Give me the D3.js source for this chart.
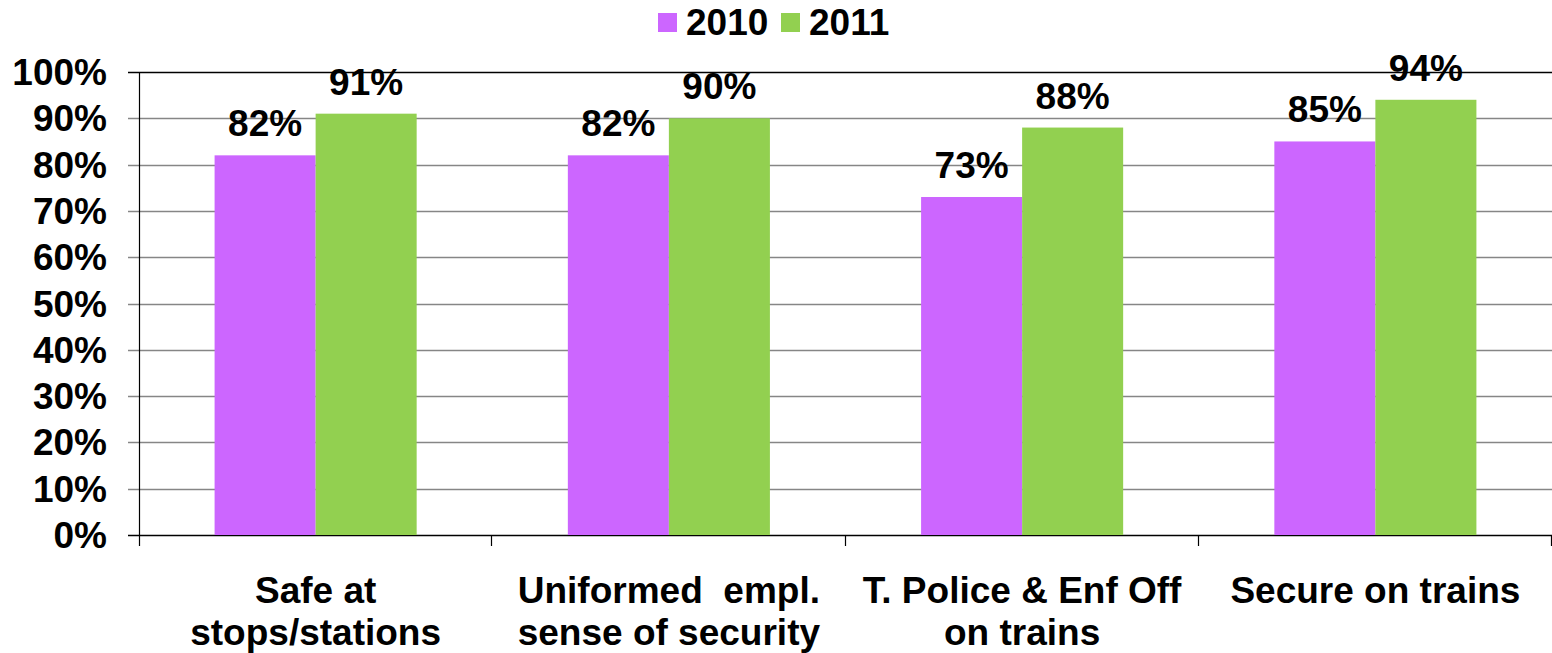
<!DOCTYPE html>
<html>
<head>
<meta charset="utf-8">
<script src="https://cdn.jsdelivr.net/npm/d3@7"></script>
<style>
body { margin: 0; background: #fff; }
svg text { font-family: Arial, "Liberation Sans", sans-serif; font-weight: bold; fill: #000; }
</style>
</head>
<body>
<div id="chart"></div>
<script>
var categories = ["Safe at stops/stations", "Uniformed empl. sense of security", "T. Police & Enf Off on trains", "Secure on trains"];
var catLines = [["Safe at", "stops/stations"], ["Uniformed  empl.", "sense of security"], ["T. Police & Enf Off", "on trains"], ["Secure on trains"]];
var series = ["2010", "2011"];
var values2010 = [0.82, 0.82, 0.73, 0.85];
var values2011 = [0.91, 0.90, 0.88, 0.94];
var yTicks = [0, 0.1, 0.2, 0.3, 0.4, 0.5, 0.6, 0.7, 0.8, 0.9, 1.0];
var colors = ["#CC66FF", "#92D050"];

function drawChart() {
var width = 1552, height = 653;
var mLeft = 139, mRight = 1552, mTop = 72, mBottom = 535;
var fs = "37px";

var svg = d3.select("#chart").append("svg").attr("width", width).attr("height", height);

var x = d3.scaleBand().domain(categories).range([mLeft, mRight]);
var bw = x.bandwidth();
var x1 = d3.scaleBand().domain(series).range([bw * 0.214, bw * 0.786]);
var y = d3.scaleLinear().domain([0, 1]).range([mBottom, mTop]);

// gridlines
svg.selectAll("line.grid").data(yTicks).enter().append("line")
	.attr("class", "grid")
	.attr("x1", mLeft - 11).attr("x2", mRight)
	.attr("y1", function(d){ return Math.round(y(d)) + 0.5; })
	.attr("y2", function(d){ return Math.round(y(d)) + 0.5; })
	.attr("stroke", function(d){ return (d === 0 || d === 1) ? "#000" : "#868686"; })
	.attr("stroke-width", 1.3);

// y labels
svg.selectAll("text.ylab").data(yTicks).enter().append("text")
	.attr("class", "ylab")
	.attr("x", 107)
	.attr("y", function(d){ return y(d) + 13; })
	.attr("text-anchor", "end")
	.style("font-size", fs)
	.text(function(d){ return d3.format(".0%")(d); });

// y axis line
svg.append("line").attr("x1", mLeft + 0.5).attr("x2", mLeft + 0.5)
	.attr("y1", mTop).attr("y2", mBottom + 11)
	.attr("stroke", "#000").attr("stroke-width", 1.2);

// category ticks
var tickXs = categories.map(function(c){ return x(c); }).concat([mRight]);
svg.selectAll("line.ctick").data(tickXs.slice(1)).enter().append("line")
	.attr("class", "ctick")
	.attr("x1", function(d){ return Math.round(d) - 0.5; })
	.attr("x2", function(d){ return Math.round(d) - 0.5; })
	.attr("y1", mBottom).attr("y2", mBottom + 11)
	.attr("stroke", "#000").attr("stroke-width", 1.2);

var data = categories.map(function(c, i){
	return { cat: c, vals: [ { s: "2010", v: values2010[i] }, { s: "2011", v: values2011[i] } ] };
});

var groups = svg.selectAll("g.cat").data(data).enter().append("g")
	.attr("class", "cat")
	.attr("transform", function(d){ return "translate(" + x(d.cat) + ",0)"; });

groups.selectAll("rect").data(function(d){ return d.vals; }).enter().append("rect")
	.attr("x", function(d){ return x1(d.s); })
	.attr("width", x1.bandwidth())
	.attr("y", function(d){ return y(d.v); })
	.attr("height", function(d){ return mBottom - y(d.v); })
	.attr("fill", function(d, i){ return colors[i]; });

groups.selectAll("text.val").data(function(d){ return d.vals; }).enter().append("text")
	.attr("class", "val")
	.attr("x", function(d){ return x1(d.s) + x1.bandwidth() / 2; })
	.attr("y", function(d){ return y(d.v) - 19; })
	.attr("text-anchor", "middle")
	.style("font-size", fs)
	.text(function(d){ return Math.round(d.v * 100) + "%"; });

// category labels
categories.forEach(function(c, i){
	var t = svg.append("text")
		.attr("text-anchor", "middle")
		.style("font-size", fs)
		.style("white-space", "pre");
	catLines[i].forEach(function(line, j){
		t.append("tspan").attr("x", x(c) + bw / 2).attr("y", 603 + j * 42).text(line);
	});
});

// legend
var legX = [658, 781];
series.forEach(function(s, i){
	svg.append("rect").attr("x", legX[i]).attr("y", 13).attr("width", 19).attr("height", 19).attr("fill", colors[i]);
	svg.append("text").attr("x", legX[i] + 28).attr("y", 35).style("font-size", fs).text(s);
});
}
drawChart();
</script>
</body>
</html>
